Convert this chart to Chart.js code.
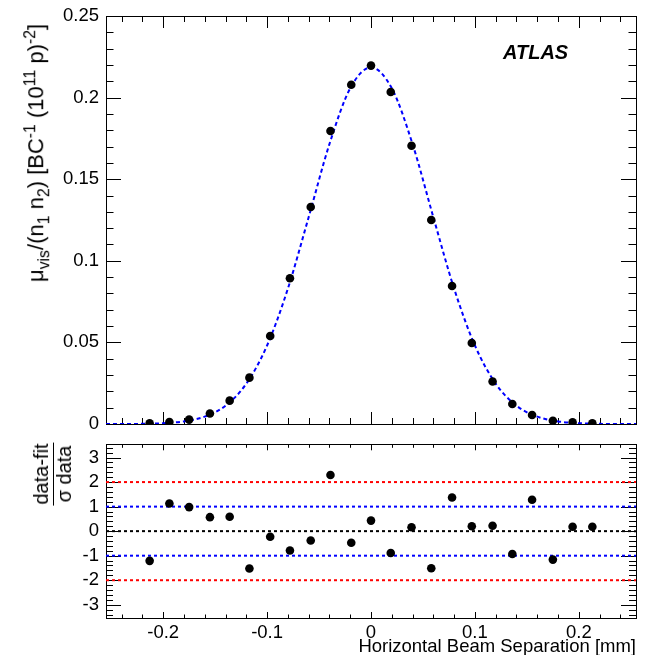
<!DOCTYPE html>
<html>
<head>
<meta charset="utf-8">
<script src="https://cdn.jsdelivr.net/npm/chart.js@4.4.1/dist/chart.umd.min.js"></script>
<style>
  html, body { margin: 0; padding: 0; background: #fff; }
  #wrap { position: relative; width: 646px; height: 655px; overflow: hidden;
          font-family: "Liberation Sans", Arial, sans-serif; color: #000; }
  canvas { position: absolute; left: 0; }
  #cTop { top: 0; }
  #cRes { top: 440px; }
  .lbl { position: absolute; white-space: nowrap; }
  #yTitle { left: 37px; top: 153px; font-size: 22px; line-height: 1;
            transform: translate(-50%, -50%) rotate(-90deg); }
  #yTitle sub, #yTitle sup { font-size: 0.72em; }
  #rTitle { left: 53px; top: 474px; transform: translate(-50%, -50%) rotate(-90deg); }
  .frac { display: inline-flex; flex-direction: column; align-items: center;
          font-size: 20px; line-height: 1.05; }
  .frac .num { border-bottom: 1.5px solid #000; padding: 0 1px 1px; }
  #atlas { left: 503px; top: 42px; font-size: 20px; line-height: 20px;
           font-weight: bold; font-style: italic; }
  #xTitle { right: 10px; top: 637px; font-size: 18.5px; line-height: 18px; }
</style>
</head>
<body>
<div id="wrap">
  <canvas id="cTop" width="646" height="440"></canvas>
  <canvas id="cRes" width="646" height="215"></canvas>
  <div class="lbl" id="yTitle">&mu;<sub>vis</sub>/(n<sub>1</sub> n<sub>2</sub>) [BC<sup>-1</sup> (10<sup>11</sup> p)<sup>-2</sup>]</div>
  <div class="lbl" id="rTitle"><div class="frac"><span class="num">data-fit</span><span>&sigma; data</span></div></div>
  <div class="lbl" id="atlas">ATLAS</div>
  <div class="lbl" id="xTitle">Horizontal Beam Separation [mm]</div>
</div>
<script>
'use strict';

/* ─── Data ──────────────────────────────────────────────────── */
const sepX = [-0.213, -0.194, -0.175, -0.155, -0.136, -0.117, -0.097, -0.078, -0.058, -0.039, -0.019, 0,
              0.019, 0.039, 0.058, 0.078, 0.097, 0.117, 0.136, 0.155, 0.175, 0.194, 0.213];
const muVis = [0.0004, 0.0012, 0.0027, 0.0064, 0.0143, 0.0284, 0.0539, 0.0893, 0.133, 0.1795, 0.2079, 0.2196,
               0.2034, 0.1705, 0.125, 0.0846, 0.0496, 0.026, 0.0123, 0.0055, 0.002, 0.001, 0.0004];
const residual = [-1.21, 1.13, 0.98, 0.57, 0.59, -1.52, -0.23, -0.79, -0.38, 2.29, -0.47, 0.43,
                  -0.89, 0.16, -1.51, 1.37, 0.20, 0.22, -0.93, 1.28, -1.16, 0.18, 0.18];

// fitted curve, sampled from the dashed line
const fitX = [-0.255, -0.24, -0.22, -0.20, -0.18, -0.16, -0.14, -0.12, -0.10, -0.08, -0.06, -0.04, -0.02, 0,
              0.02, 0.04, 0.06, 0.08, 0.10, 0.12, 0.14, 0.16, 0.18, 0.20, 0.22, 0.24, 0.255];
const fitY = [0, 0, 0.0001, 0.0005, 0.0016, 0.0045, 0.0112, 0.0247, 0.0481, 0.0829, 0.1267, 0.1715, 0.2057, 0.2185,
              0.2057, 0.1715, 0.1267, 0.0829, 0.0481, 0.0247, 0.0112, 0.0045, 0.0016, 0.0005, 0.0001, 0, 0];

// residual reference levels
const refLevels = [2, 1, 0, -1, -2];
const refColors = ['#ff0000', '#0000ff', '#000000', '#0000ff', '#ff0000'];

// ticks
const xTicks      = [-0.2, -0.1, 0, 0.1, 0.2];
const xTickLabels = ['-0.2', '-0.1', '0', '0.1', '0.2'];
const topYTicks   = [0, 0.05, 0.1, 0.15, 0.2, 0.25];
const topYLabels  = ['0', '0.05', '0.1', '0.15', '0.2', '0.25'];
const resYTicks   = [-3, -2, -1, 0, 1, 2, 3];
const resYLabels  = ['-3', '-2', '-1', '0', '1', '2', '3'];

const X_MIN = -0.255, X_MAX = 0.255;
const FONT = { family: '"Liberation Sans", Arial, sans-serif', size: 18.5 };

/* ─── ROOT-style frame with inward ticks ────────────────────── */
function stepsIn(min, max, step) {
  const out = [];
  const k0 = Math.ceil(min / step - 1e-9), k1 = Math.floor(max / step + 1e-9);
  for (let k = k0; k <= k1; k++) out.push(k * step);
  return out;
}

const rootFrame = {
  id: 'rootFrame',
  beforeDatasetsDraw(chart, args, o) {
    const { ctx, chartArea: a, scales: { x, y } } = chart;
    const px = v => Math.round(x.getPixelForValue(v)) + 0.5;
    const py = v => Math.round(y.getPixelForValue(v)) + 0.5;
    ctx.save();
    ctx.strokeStyle = '#000';
    ctx.lineWidth = 1;
    ctx.beginPath();
    const xt = (step, len) => stepsIn(x.min, x.max, step).forEach(v => {
      const p = px(v);
      ctx.moveTo(p, a.bottom); ctx.lineTo(p, a.bottom - len);
      ctx.moveTo(p, a.top);    ctx.lineTo(p, a.top + len);
    });
    const yt = (step, len) => stepsIn(y.min, y.max, step).forEach(v => {
      const p = py(v);
      ctx.moveTo(a.left, p);  ctx.lineTo(a.left + len, p);
      ctx.moveTo(a.right, p); ctx.lineTo(a.right - len, p);
    });
    xt(o.xMajor, o.xMajLen); xt(o.xMinor, o.xMinLen);
    yt(o.yMajor, o.yMajLen); yt(o.yMinor, o.yMinLen);
    ctx.stroke();
    ctx.strokeRect(Math.round(a.left) + 0.5, Math.round(a.top) + 0.5,
                   Math.round(a.right - a.left), Math.round(a.bottom - a.top));
    ctx.restore();
  }
};

function fixedAxis(extra) {
  return Object.assign({
    grid: { display: false, drawTicks: false },
    border: { display: false },
  }, extra);
}

function fixTicks(values) {
  return s => { s.ticks = values.map(v => ({ value: v })); };
}

/* ─── Top panel: visible interaction rate vs separation ────── */
new Chart(document.getElementById('cTop'), {
  type: 'scatter',
  data: {
    datasets: [
      {
        label: 'fit',
        data: fitX.map((v, i) => ({ x: v, y: fitY[i] })),
        showLine: true,
        pointRadius: 0,
        borderColor: '#0000ff',
        borderWidth: 2,
        borderDash: [4, 3],
        cubicInterpolationMode: 'monotone',
        order: 2,
      },
      {
        label: 'data',
        data: sepX.map((v, i) => ({ x: v, y: muVis[i] })),
        pointRadius: 4.3,
        pointBackgroundColor: '#000',
        pointBorderWidth: 0,
        order: 1,
      }
    ]
  },
  options: {
    responsive: false,
    animation: false,
    devicePixelRatio: 1,
    events: [],
    layout: { padding: { left: 0, top: 16, right: 10, bottom: 0 } },
    plugins: {
      legend: { display: false },
      tooltip: { enabled: false },
      rootFrame: { xMajor: 0.1, xMinor: 0.02, xMajLen: 12, xMinLen: 6,
                   yMajor: 0.05, yMinor: 0.01, yMajLen: 15, yMinLen: 7.5 },
    },
    scales: {
      x: fixedAxis({
        type: 'linear', min: X_MIN, max: X_MAX,
        ticks: { display: false },
        afterFit: s => { s.height = 16; s.paddingLeft = 0; s.paddingRight = 0; },
      }),
      y: fixedAxis({
        type: 'linear', min: 0, max: 0.25,
        afterBuildTicks: fixTicks(topYTicks),
        ticks: { font: FONT, color: '#000', padding: 7, callback: (v, i) => topYLabels[i] },
        afterFit: s => { s.width = 106; s.paddingTop = 0; s.paddingBottom = 0; },
      }),
    }
  },
  plugins: [rootFrame]
});

/* ─── Bottom panel: pull distribution ───────────────────────── */
const refSets = refLevels.map((lvl, i) => ({
  label: 'ref ' + lvl,
  data: [{ x: X_MIN, y: lvl }, { x: X_MAX, y: lvl }],
  showLine: true,
  pointRadius: 0,
  borderColor: refColors[i],
  borderWidth: 2,
  borderDash: [3, 3],
  order: 2,
}));

new Chart(document.getElementById('cRes'), {
  type: 'scatter',
  data: {
    datasets: [
      ...refSets,
      {
        label: 'residual',
        data: sepX.map((v, i) => ({ x: v, y: residual[i] })),
        pointRadius: 4.3,
        pointBackgroundColor: '#000',
        pointBorderWidth: 0,
        order: 1,
      }
    ]
  },
  options: {
    responsive: false,
    animation: false,
    devicePixelRatio: 1,
    events: [],
    layout: { padding: { left: 0, top: 3, right: 10, bottom: 0 } },
    plugins: {
      legend: { display: false },
      tooltip: { enabled: false },
      rootFrame: { xMajor: 0.1, xMinor: 0.02, xMajLen: 6, xMinLen: 3.5,
                   yMajor: 1, yMinor: 0.2, yMajLen: 15, yMinLen: 7 },
    },
    scales: {
      x: fixedAxis({
        type: 'linear', min: X_MIN, max: X_MAX,
        afterBuildTicks: fixTicks(xTicks),
        ticks: { font: FONT, color: '#000', padding: 4, maxRotation: 0,
                 callback: (v, i) => xTickLabels[i] },
        afterFit: s => { s.height = 37; s.paddingLeft = 0; s.paddingRight = 0; },
      }),
      y: fixedAxis({
        type: 'linear', min: -3.54, max: 3.54,
        afterBuildTicks: fixTicks(resYTicks),
        ticks: { font: FONT, color: '#000', padding: 7, callback: (v, i) => resYLabels[i] },
        afterFit: s => { s.width = 106; s.paddingTop = 0; s.paddingBottom = 0; },
      }),
    }
  },
  plugins: [rootFrame]
});
</script>
</body>
</html>
